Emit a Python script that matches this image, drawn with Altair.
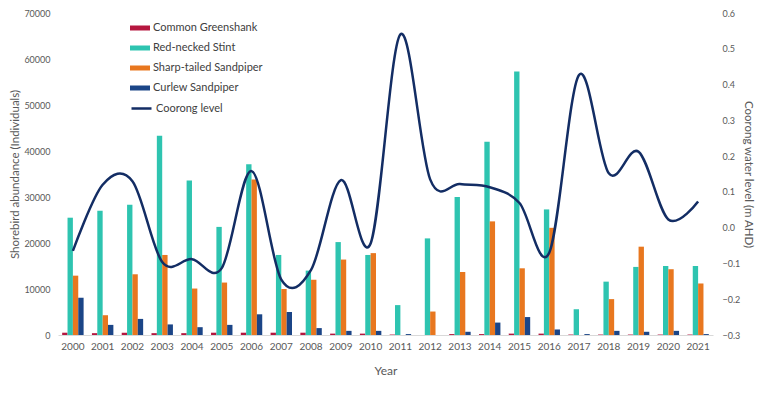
import altair as alt
import pandas as pd

years = [str(y) for y in range(2000, 2022)]
greenshank = [500, 400, 500, 400, 400, 500, 500, 500, 500, 300, 300, 100, 0, 200, 200, 300, 300, 100, 100, 100, 100, 100]
stint = [25500, 27000, 28300, 43300, 33600, 23500, 37100, 17400, 14000, 20200, 17400, 6500, 21000, 30000, 42000, 57300, 27300, 5600, 11600, 14800, 15000, 15000]
sharp = [12900, 4300, 13200, 17400, 10100, 11400, 33800, 10000, 12000, 16400, 17800, 0, 5100, 13700, 24700, 14500, 23300, 0, 7800, 19200, 14300, 11200]
curlew = [8100, 2200, 3500, 2300, 1700, 2200, 4500, 5000, 1500, 900, 900, 200, 0, 700, 2700, 3900, 1200, 200, 900, 700, 900, 200]
coorong = [-0.065, 0.12, 0.13, -0.096, -0.088, -0.113, 0.158, -0.145, -0.118, 0.133, -0.044, 0.54, 0.135, 0.122, 0.113, 0.069, -0.07, 0.427, 0.152, 0.212, 0.023, 0.073]

species = ["Common Greenshank", "Red-necked Stint", "Sharp-tailed Sandpiper", "Curlew Sandpiper"]
colors = ["#B5173F", "#2EC4B0", "#E8771F", "#1B4587"]
line_color = "#132D64"

rows = []
for i, y in enumerate(years):
    for sp, vals in zip(species, [greenshank, stint, sharp, curlew]):
        rows.append({"Year": y, "Species": sp, "Count": vals[i]})
bars_df = pd.DataFrame(rows)
line_df = pd.DataFrame({"Year": years, "Level": coorong, "Series": ["Coorong level"] * len(years)})

FONT = "Lato"
xscale = alt.Scale(paddingInner=0.28, paddingOuter=0.14)

bars = alt.Chart(bars_df).mark_bar().encode(
    x=alt.X("Year:N", sort=years, scale=xscale,
            axis=alt.Axis(title="Year", labelAngle=0, ticks=False, domain=True,
                          domainColor="#D9D9D9", labelPadding=6, titlePadding=14,
                          labelFontSize=10, titleFontSize=12)),
    xOffset=alt.XOffset("Species:N", sort=species),
    y=alt.Y("Count:Q", scale=alt.Scale(domain=[0, 70000]),
            axis=alt.Axis(title="Shorebird abundance (Individuals)", values=list(range(0, 70001, 10000)),
                          format="d", ticks=False, domain=False, grid=False, labelPadding=8,
                          titlePadding=3, labelFontSize=9, titleFontSize=11.5)),
    color=alt.Color("Species:N", sort=species,
                    scale=alt.Scale(domain=species, range=colors),
                    legend=alt.Legend(orient="none", legendX=72, legendY=5, title=None,
                                      symbolType="M-1,-0.25H1V0.25H-1Z", symbolSize=400,
                                      symbolStrokeWidth=0, labelFontSize=11, labelOffset=3,
                                      rowPadding=5, labelColor="#404040", labelFont=FONT)),
)

line = alt.Chart(line_df).mark_line(interpolate="cardinal", strokeWidth=2.5).encode(
    x=alt.X("Year:N", sort=years, scale=xscale),
    y=alt.Y("Level:Q", scale=alt.Scale(domain=[-0.3, 0.6]),
            axis=alt.Axis(title="Coorong  water level (m AHD)", orient="right",
                          values=[-0.3, -0.2, -0.1, 0, 0.1, 0.2, 0.3, 0.4, 0.5, 0.6],
                          ticks=False, domain=False, grid=False, labelPadding=9,
                          titlePadding=3, labelFontSize=9, titleFontSize=11.5)),
    stroke=alt.Stroke("Series:N", scale=alt.Scale(range=[line_color]),
                      legend=alt.Legend(orient="none", legendX=72, legendY=84, title=None,
                                        symbolType="stroke", symbolSize=400,
                                        symbolStrokeWidth=2.5, labelFontSize=11, labelOffset=3,
                                        labelColor="#404040", labelFont=FONT)),
)

chart = alt.layer(bars, line).resolve_scale(y="independent").properties(
    width=655, height=322,
    autosize=alt.AutoSizeParams(type="none"),
    padding={"left": 50, "top": 5, "right": 45, "bottom": 55},
).configure_axis(
    labelFont=FONT, titleFont=FONT, labelColor="#595959", titleColor="#595959",
    titleFontWeight="normal", grid=False,
).configure_view(stroke=None)

chart.save("out.html", embed_options={"renderer": "svg", "actions": False})
